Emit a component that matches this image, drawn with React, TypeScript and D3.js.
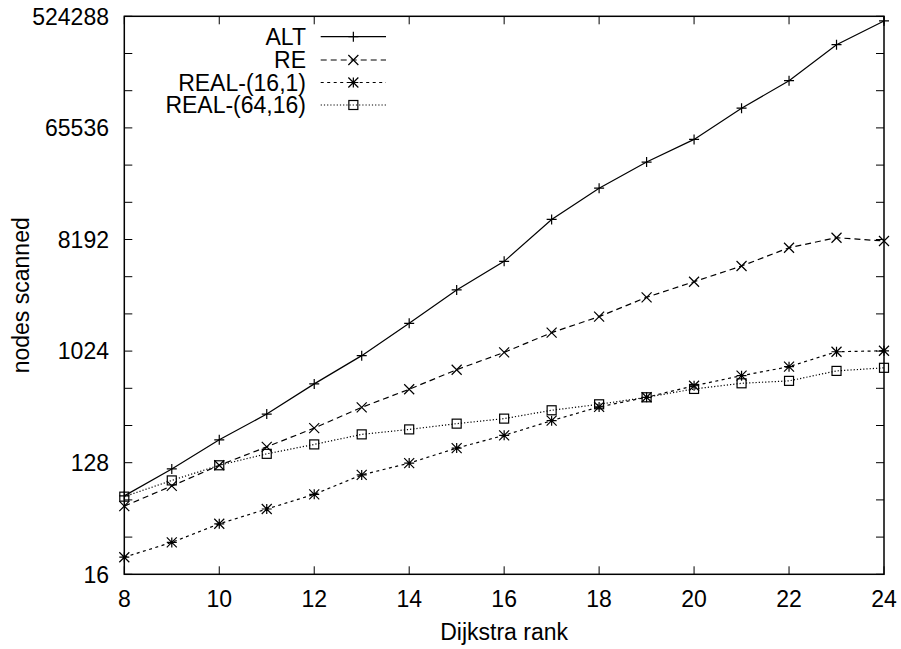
import React from "react";
import * as d3 from "d3";

const ranks = [8, 9, 10, 11, 12, 13, 14, 15, 16, 17, 18, 19, 20, 21, 22, 23, 24];
const altValues = [69, 114, 196, 317, 556, 941, 1718, 3200, 5450, 11900, 21300, 34700, 52900, 94600, 158000, 309000, 481000];
const reValues = [57, 83, 122, 172, 244, 359, 503, 724, 1000, 1444, 1948, 2790, 3730, 5000, 7030, 8470, 7970];
const real161Values = [22, 29, 41, 54, 71, 102, 127, 168, 213, 280, 362, 433, 537, 648, 766, 1012, 1030];
const real6416Values = [68, 92, 122, 151, 180, 217, 238, 265, 291, 340, 380, 433, 506, 562, 588, 708, 750];
const seriesNames = ["ALT", "RE", "REAL-(16,1)", "REAL-(64,16)"];
const xTicks = [8, 10, 12, 14, 16, 18, 20, 22, 24];
const yLabelTicks = [16, 128, 1024, 8192, 65536, 524288];

const W = 901, H = 649;
const L = 124.3, R = 884, T = 16.3, B = 574.3;
const FONT = "'Liberation Sans', Arial, Helvetica, sans-serif";
const FS = 23;

type MarkerKind = "plus" | "cross" | "star" | "square";

function Marker({ kind, x, y }: { kind: MarkerKind; x: number; y: number }) {
  const s = 5;
  const st = { stroke: "#000", strokeWidth: 1.2, fill: "none" };
  if (kind === "plus")
    return <path d={`M${x - s},${y}H${x + s}M${x},${y - s}V${y + s}`} {...st} />;
  if (kind === "cross")
    return <path d={`M${x - s},${y - s}L${x + s},${y + s}M${x - s},${y + s}L${x + s},${y - s}`} {...st} />;
  if (kind === "star")
    return (
      <path
        d={`M${x - s},${y}H${x + s}M${x},${y - s}V${y + s}M${x - s},${y - s}L${x + s},${y + s}M${x - s},${y + s}L${x + s},${y - s}`}
        {...st}
      />
    );
  return <rect x={x - 4.5} y={y - 4.5} width={9} height={9} {...st} />;
}

export default function App() {
  const x = d3.scaleLinear().domain([8, 24]).range([L, R]);
  const y = d3.scaleLog().base(2).domain([16, 524288]).range([B, T]);
  const series = [
    { name: seriesNames[0], values: altValues, dash: "none", marker: "plus" as MarkerKind },
    { name: seriesNames[1], values: reValues, dash: "6,4", marker: "cross" as MarkerKind },
    { name: seriesNames[2], values: real161Values, dash: "3,3.5", marker: "star" as MarkerKind },
    { name: seriesNames[3], values: real6416Values, dash: "1.2,2", marker: "square" as MarkerKind },
  ];
  const line = d3
    .line<number>()
    .x((_, i) => x(ranks[i]))
    .y((v) => y(v));
  const yMinor = d3.range(4, 20).map((e) => Math.pow(2, e));
  const tick = 8;
  const legendY = [36.7, 60, 82.5, 105];
  const legendTextX = 306;
  const legendL = 320.7, legendR = 386;

  return (
    <svg
      width={W}
      height={H}
      style={{ position: "absolute", left: 0, top: 0, background: "#fff" }}
      fontFamily={FONT}
    >
      <rect width={W} height={H} fill="#fff" />
      {xTicks.map((t) => (
        <g key={"xt" + t}>
          <line x1={x(t)} x2={x(t)} y1={B} y2={B - tick} stroke="#000" strokeWidth={1} />
          <line x1={x(t)} x2={x(t)} y1={T} y2={T + tick} stroke="#000" strokeWidth={1} />
          <text x={x(t)} y={607} textAnchor="middle" fontSize={FS}>
            {t}
          </text>
        </g>
      ))}
      {yMinor.map((t) => (
        <g key={"yt" + t}>
          <line x1={L} x2={L + tick} y1={y(t)} y2={y(t)} stroke="#000" strokeWidth={1} />
          <line x1={R} x2={R - tick} y1={y(t)} y2={y(t)} stroke="#000" strokeWidth={1} />
        </g>
      ))}
      {yLabelTicks.map((t) => (
        <text key={"yl" + t} x={109} y={y(t)} dy="0.36em" textAnchor="end" fontSize={FS}>
          {t}
        </text>
      ))}
      <rect x={L} y={T} width={R - L} height={B - T} fill="none" stroke="#000" strokeWidth={1.5} />
      {series.map((s) => (
        <g key={s.name}>
          <path d={line(s.values) || ""} fill="none" stroke="#000" strokeWidth={1.2} strokeDasharray={s.dash} />
          {s.values.map((v, i) => (
            <Marker key={i} kind={s.marker} x={x(ranks[i])} y={y(v)} />
          ))}
        </g>
      ))}
      {series.map((s, i) => (
        <g key={"lg" + s.name}>
          <text x={legendTextX} y={legendY[i]} dy="0.36em" textAnchor="end" fontSize={FS}>
            {s.name}
          </text>
          <line
            x1={legendL}
            x2={legendR}
            y1={legendY[i]}
            y2={legendY[i]}
            stroke="#000"
            strokeWidth={1.2}
            strokeDasharray={s.dash}
          />
          <Marker kind={s.marker} x={(legendL + legendR) / 2} y={legendY[i]} />
        </g>
      ))}
      <text x={(L + R) / 2} y={640} textAnchor="middle" fontSize={FS}>
        Dijkstra rank
      </text>
      <text transform={`translate(29,${(T + B) / 2}) rotate(-90)`} textAnchor="middle" fontSize={FS}>
        nodes scanned
      </text>
    </svg>
  );
}
